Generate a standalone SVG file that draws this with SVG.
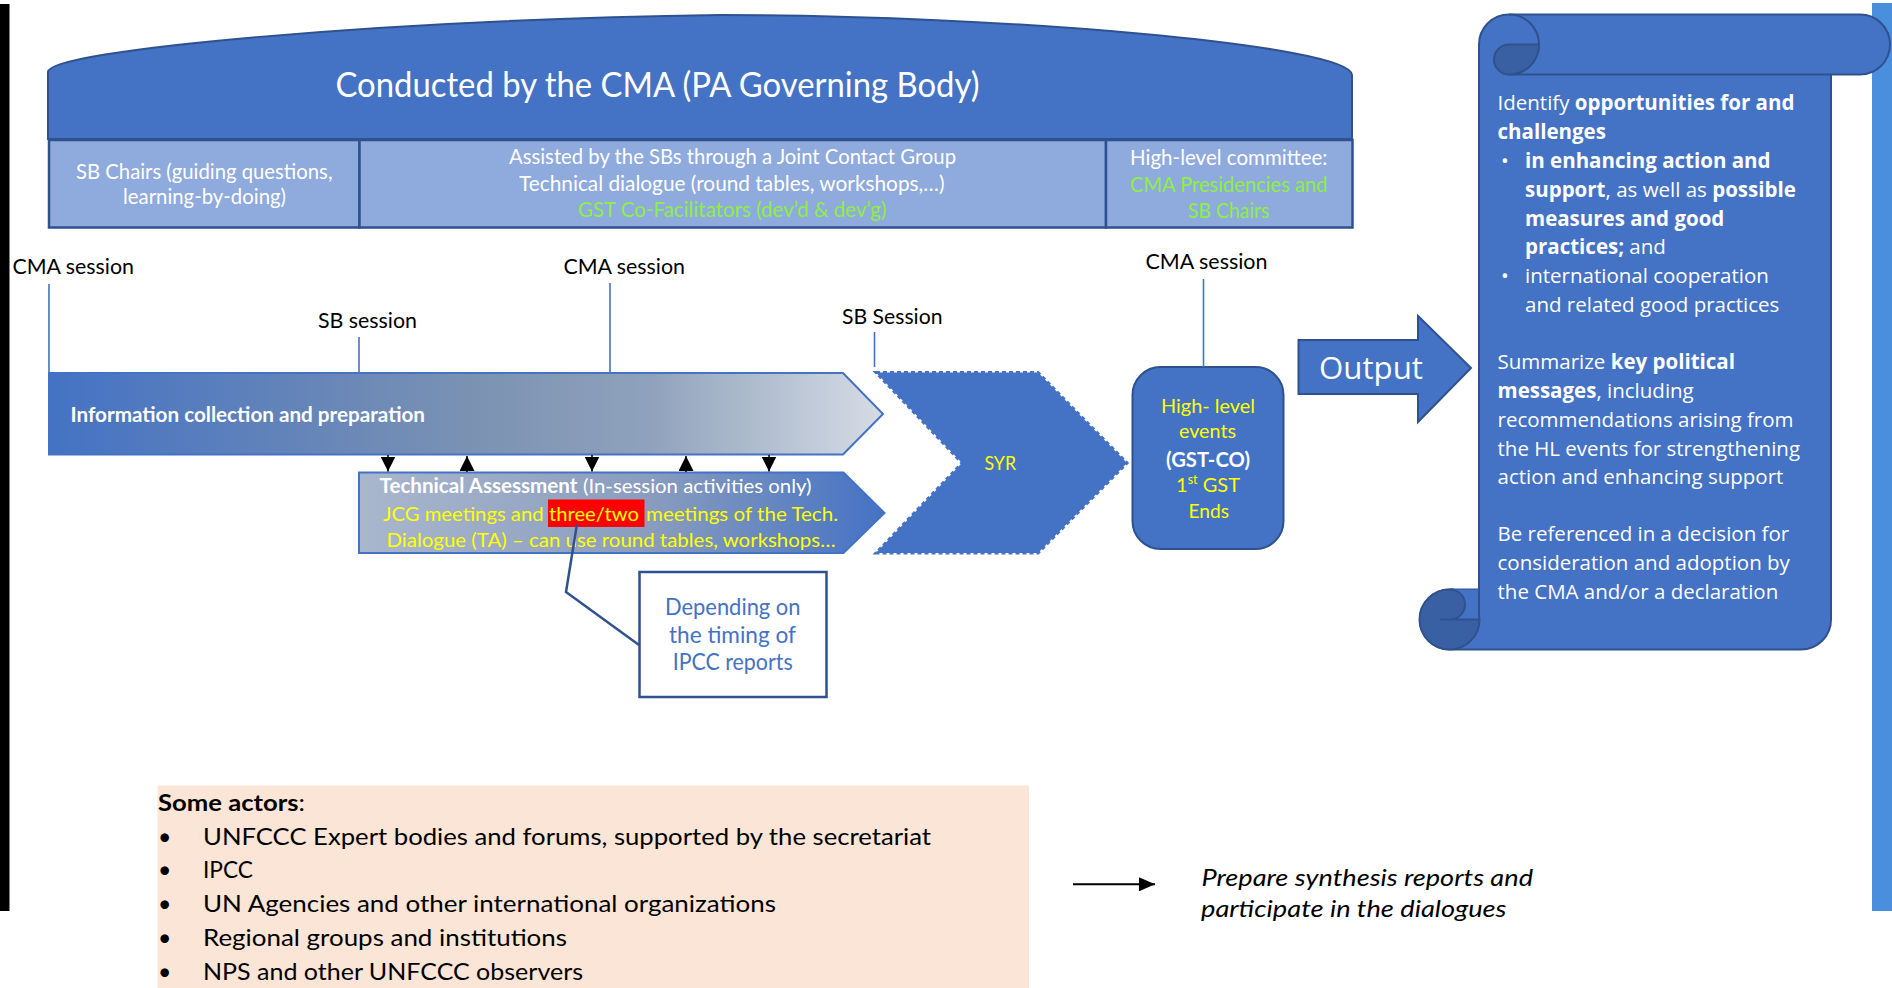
<svg xmlns="http://www.w3.org/2000/svg" width="1892" height="988" viewBox="0 0 1892 988">
<defs>
<style>
.c{font-family:Lato,'Liberation Sans',sans-serif}
.o{font-family:'Open Sans','Liberation Sans',sans-serif}
.w{fill:#fff}
.y{fill:#ffff00}
.g{fill:#8df046}
.k{fill:#000}
.b{font-weight:700}
.blue{fill:#4472c4;stroke:#2f528f;stroke-width:2}
.lt{fill:#8faadc;stroke:#2f528f;stroke-width:2.5}
.sl{stroke:#4472c4;stroke-width:1.6;fill:none}
.dk{fill:#3a60a4;stroke:#2f528f;stroke-width:2}
.st{fill:none;stroke:#2f528f;stroke-width:2}
</style>
<linearGradient id="gInfo" x1="0" y1="0" x2="1" y2="0">
<stop offset="0" stop-color="#4472c4"/>
<stop offset="0.5" stop-color="#7a91b2"/>
<stop offset="0.72" stop-color="#8fa2bc"/>
<stop offset="1" stop-color="#d6dce5"/>
</linearGradient>
<linearGradient id="gTech" x1="0" y1="0" x2="1" y2="0">
<stop offset="0" stop-color="#a9b7cd"/>
<stop offset="0.55" stop-color="#8a9dbe"/>
<stop offset="1" stop-color="#4472c4"/>
</linearGradient>
<marker id="tri" viewBox="0 0 10 10" refX="10" refY="5" markerWidth="15" markerHeight="15" markerUnits="userSpaceOnUse" orient="auto"><path d="M0,0 L10,5 L0,10 Z" fill="#000"/></marker>
<marker id="arr" viewBox="0 0 16 14" refX="16" refY="7" markerWidth="16" markerHeight="14" markerUnits="userSpaceOnUse" orient="auto"><path d="M0,0 L16,7 L0,14 Z" fill="#000"/></marker>
</defs>
<rect width="1892" height="988" fill="#fff"/>
<rect x="0" y="4" width="9.5" height="907" fill="#000"/>
<rect x="1872" y="3" width="20" height="908" fill="#4a8fdd"/>

<g id="cma-header">
<path class="blue" d="M48,139 L48,72 C48,50 380,20 720,15 C1000,15 1352,45 1352,75 L1352,139 Z"/>
<text class="c w" x="335.5" y="96.5" font-size="34" textLength="644" lengthAdjust="spacingAndGlyphs">Conducted by the CMA (PA Governing Body)</text>
</g>

<g id="sb-chairs">
<rect class="lt" x="49" y="140" width="310.5" height="87.5"/>
<text class="c w" x="76" y="178.5" font-size="21" textLength="256.5" lengthAdjust="spacingAndGlyphs">SB Chairs (guiding questions,</text>
<text class="c w" x="123" y="203.5" font-size="21" textLength="163" lengthAdjust="spacingAndGlyphs">learning-by-doing)</text>
</g>

<g id="joint-contact-group">
<rect class="lt" x="359.5" y="140" width="746.5" height="87.5"/>
<text class="c w" x="509" y="164" font-size="21" textLength="447" lengthAdjust="spacingAndGlyphs">Assisted by the SBs through a Joint Contact Group</text>
<text class="c w" x="519" y="190.5" font-size="21" textLength="425.5" lengthAdjust="spacingAndGlyphs">Technical dialogue (round tables, workshops,…)</text>
<text class="c g" x="578" y="217" font-size="21" textLength="308.5" lengthAdjust="spacingAndGlyphs">GST Co-Facilitators (dev’d &amp; dev’g)</text>
</g>

<g id="high-level-committee">
<rect class="lt" x="1106" y="140" width="246.5" height="87.5"/>
<text class="c w" x="1130" y="165" font-size="21" textLength="197.5" lengthAdjust="spacingAndGlyphs">High-level committee:</text>
<text class="c g" x="1130" y="191.5" font-size="21" textLength="197.5" lengthAdjust="spacingAndGlyphs">CMA Presidencies and</text>
<text class="c g" x="1188" y="218" font-size="21" textLength="81.5" lengthAdjust="spacingAndGlyphs">SB Chairs</text>
</g>

<g id="session-labels">
<text class="c k" x="12.5" y="274" font-size="21" textLength="121.5" lengthAdjust="spacingAndGlyphs">CMA session</text>
<text class="c k" x="318" y="328" font-size="21" textLength="99" lengthAdjust="spacingAndGlyphs">SB session</text>
<text class="c k" x="563.5" y="274" font-size="21" textLength="121.5" lengthAdjust="spacingAndGlyphs">CMA session</text>
<text class="c k" x="842" y="324" font-size="21" textLength="100.5" lengthAdjust="spacingAndGlyphs">SB Session</text>
<text class="c k" x="1145.5" y="268.5" font-size="21" textLength="122" lengthAdjust="spacingAndGlyphs">CMA session</text>
</g>

<g id="information-collection">
<path d="M49,373 L843,373 L883,414 L843,454.5 L49,454.5 Z" fill="url(#gInfo)" stroke="#4472c4" stroke-width="2"/>
<text class="c w b" x="70.5" y="421.5" font-size="21" textLength="354.5" lengthAdjust="spacingAndGlyphs">Information collection and preparation</text>
</g>

<g id="technical-assessment">
<path d="M359,472.5 L843.5,472.5 L884.5,513 L843.5,553 L359,553 Z" fill="url(#gTech)" stroke="#4472c4" stroke-width="2"/>
<text class="c w b" x="379.5" y="493.3" font-size="20" textLength="198" lengthAdjust="spacingAndGlyphs">Technical Assessment</text>
<text class="c w" x="583" y="493.3" font-size="20" textLength="228.5" lengthAdjust="spacingAndGlyphs">(In-session activities only)</text>
<rect x="548" y="499.5" width="96.5" height="27.5" fill="#ff0000"/>
<text class="c y" x="383" y="520.7" font-size="20" textLength="160.5" lengthAdjust="spacingAndGlyphs">JCG meetings and</text>
<text class="c y" x="549" y="520.7" font-size="20" textLength="90" lengthAdjust="spacingAndGlyphs">three/two</text>
<text class="c y" x="646" y="520.7" font-size="20" textLength="192" lengthAdjust="spacingAndGlyphs">meetings of the Tech.</text>
<text class="c y" x="386.5" y="547.3" font-size="20" textLength="449" lengthAdjust="spacingAndGlyphs">Dialogue (TA) – can use round tables, workshops…</text>
</g>

<g id="syr">
<path d="M876,372.5 L1038,372.5 L1127,463 L1038,553 L876,553 L962,463 Z" fill="#4472c4" stroke="#4472c4" stroke-width="3" stroke-dasharray="4 3"/>
<text class="c y" x="984.5" y="470" font-size="20" textLength="31.5" lengthAdjust="spacingAndGlyphs">SYR</text>
</g>

<g id="high-level-events">
<rect class="blue" x="1132.5" y="367" width="151" height="182" rx="28" ry="28" stroke-width="2.5"/>
<text class="c y" x="1161" y="412.7" font-size="20" textLength="94" lengthAdjust="spacingAndGlyphs">High- level</text>
<text class="c y" x="1179" y="438.3" font-size="20" textLength="57" lengthAdjust="spacingAndGlyphs">events</text>
<text class="c w b" x="1166" y="466.7" font-size="20" textLength="84" lengthAdjust="spacingAndGlyphs">(GST-CO)</text>
<text class="c y" x="1208" y="491.7" font-size="20" text-anchor="middle">1<tspan font-size="12.5" dy="-8">st</tspan><tspan dy="8"> GST</tspan></text>
<text class="c y" x="1188.5" y="518.3" font-size="20" textLength="40.5" lengthAdjust="spacingAndGlyphs">Ends</text>
</g>

<g id="output-arrow">
<path class="blue" d="M1298.5,340 L1418,340 L1418,316 L1471,368 L1418,422 L1418,394 L1298.5,394 Z"/>
<text class="o w" x="1319" y="379.3" font-size="31.5" textLength="104" lengthAdjust="spacingAndGlyphs">Output</text>
</g>

<g id="output-scroll">
<path class="blue" d="M1450,649.5 L1801,649.5 A30,30 0 0 0 1831,619.5 L1831,74.5 L1860,74.5 A30,30 0 0 0 1860,14.5 L1509,14.5 A30,30 0 0 0 1479,44.5 L1479,589.5 L1450,589.5 A30,30 0 0 0 1450,649.5 Z"/>
<path class="st" d="M1509,14.5 A30,30 0 0 1 1509,74.5 L1831,74.5"/>
<path class="dk" d="M1509,44.5 L1539,44.5 A30,30 0 0 1 1509,74.5 A15,15 0 0 1 1509,44.5 Z"/>
<circle class="dk" cx="1449.5" cy="619.5" r="30"/>
<path d="M1450,589.5 L1479,589.5 L1479,619.5 L1450,619.5 A15,15 0 0 0 1450,589.5 Z" fill="#4472c4"/>
<path class="st" d="M1450,589.5 A15,15 0 0 1 1450,619.5 M1440,619.5 L1479,619.5 M1479,589.5 L1479,619.5"/>
<g class="o w" font-size="20.5">
<text x="1497.5" y="110">Identify <tspan class="b">opportunities for and</tspan></text>
<text x="1497.5" y="139" class="b">challenges</text>
<text x="1501" y="168">•</text>
<text x="1525" y="168" class="b">in enhancing action and</text>
<text x="1525" y="197"><tspan class="b">support</tspan>, as well as <tspan class="b">possible</tspan></text>
<text x="1525" y="225.5" class="b">measures and good</text>
<text x="1525" y="254"><tspan class="b">practices;</tspan> and</text>
<text x="1501" y="283">•</text>
<text x="1525" y="283">international cooperation</text>
<text x="1525" y="312">and related good practices</text>
<text x="1497.5" y="369">Summarize <tspan class="b">key political</tspan></text>
<text x="1497.5" y="398"><tspan class="b">messages</tspan>, including</text>
<text x="1497.5" y="426.5">recommendations arising from</text>
<text x="1497.5" y="455.5">the HL events for strengthening</text>
<text x="1497.5" y="484">action and enhancing support</text>
<text x="1497.5" y="541">Be referenced in a decision for</text>
<text x="1497.5" y="570">consideration and adoption by</text>
<text x="1497.5" y="599">the CMA and/or a declaration</text>
</g>
</g>

<g id="ipcc-callout">
<rect x="639.5" y="572" width="187" height="125" fill="#fff" stroke="#2f528f" stroke-width="2.5"/>
<text class="c" fill="#4472c4" x="665" y="615" font-size="23" textLength="135.5" lengthAdjust="spacingAndGlyphs">Depending on</text>
<text class="c" fill="#4472c4" x="669" y="642.7" font-size="23" textLength="127" lengthAdjust="spacingAndGlyphs">the timing of</text>
<text class="c" fill="#4472c4" x="672.7" y="670" font-size="23" textLength="120" lengthAdjust="spacingAndGlyphs">IPCC reports</text>
</g>

<g id="actors">
<rect x="157.5" y="785.5" width="871.5" height="202.5" fill="#fbe5d6"/>
<text class="c k" x="158" y="811" font-size="23" textLength="147" lengthAdjust="spacingAndGlyphs"><tspan class="b">Some actors</tspan>:</text>
<g class="c k" font-size="23">
<text x="158" y="844.6">•</text>
<text x="158" y="878.4">•</text>
<text x="158" y="912">•</text>
<text x="158" y="946">•</text>
<text x="158" y="980">•</text>
<text x="203" y="844.6" textLength="728" lengthAdjust="spacingAndGlyphs">UNFCCC Expert bodies and forums, supported by the secretariat</text>
<text x="203" y="878.4" textLength="50" lengthAdjust="spacingAndGlyphs">IPCC</text>
<text x="203" y="912" textLength="573" lengthAdjust="spacingAndGlyphs">UN Agencies and other international organizations</text>
<text x="203" y="946" textLength="364" lengthAdjust="spacingAndGlyphs">Regional groups and institutions</text>
<text x="203" y="980" textLength="380" lengthAdjust="spacingAndGlyphs">NPS and other UNFCCC observers</text>
</g>
</g>

<g id="actors-role">
<text class="c k" font-style="italic" x="1201.5" y="886" font-size="23" textLength="331.5" lengthAdjust="spacingAndGlyphs">Prepare synthesis reports and</text>
<text class="c k" font-style="italic" x="1201" y="917" font-size="23" textLength="305.5" lengthAdjust="spacingAndGlyphs">participate in the dialogues</text>
</g>

<g id="connectors">
<line class="sl" x1="49" y1="284" x2="49" y2="372"/>
<line class="sl" x1="359" y1="337" x2="359" y2="372"/>
<line class="sl" x1="610" y1="283" x2="610" y2="372"/>
<line class="sl" x1="874.5" y1="332" x2="874.5" y2="367"/>
<line class="sl" x1="1203.5" y1="279" x2="1203.5" y2="367"/>
<g stroke="#000" stroke-width="1.5">
<line x1="388" y1="455" x2="388" y2="471.5" marker-end="url(#tri)"/>
<line x1="467" y1="472" x2="467" y2="456" marker-end="url(#tri)"/>
<line x1="592" y1="455" x2="592" y2="471.5" marker-end="url(#tri)"/>
<line x1="686" y1="472" x2="686" y2="456" marker-end="url(#tri)"/>
<line x1="769" y1="455" x2="769" y2="471.5" marker-end="url(#tri)"/>
</g>
<polyline points="639,645 566,592 577,524" fill="none" stroke="#2f528f" stroke-width="2.5"/>
<line x1="1073" y1="884.3" x2="1155" y2="884.3" stroke="#000" stroke-width="2" marker-end="url(#arr)"/>
</g>
</svg>
